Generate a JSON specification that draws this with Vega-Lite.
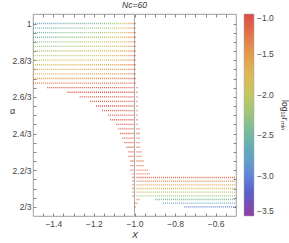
{
 "$schema": "https://vega.github.io/schema/vega-lite/v6.json",
 "width": 203, "height": 202,
 "autosize": "none",
 "padding": {"left": 33, "top": 14, "right": 53, "bottom": 27},
 "background": "white",
 "config": {
  "view": {"stroke": "#888", "strokeWidth": 0.8},
  "font": "Liberation Sans",
  "axis": {"labelFontSize": 8.5, "labelColor": "#444", "tickColor": "#888", "domain": false, "grid": false, "labelOverlap": false, "labelFlush": false, "titleFontSize": 9, "titleColor": "#333", "titleFontWeight": "normal"}
 },
 "title": {"text": "Nc=60", "fontSize": 8.5, "fontWeight": "normal", "fontStyle": "italic", "color": "#333", "offset": 4},
 "datasets": {
  "seg": [
   {"a":1,"x":-1.5,"x2":-1.375,"c":-2.76},{"a":1,"x":-1.37,"x2":-1.245,"c":-2.57},{"a":1,"x":-1.24,"x2":-1.145,"c":-2.39},{"a":1,"x":-1.14,"x2":-1.075,"c":-2.15},{"a":1,"x":-1.07,"x2":-1.035,"c":-1.83},{"a":1,"x":-1.03,"x2":-1.005,"c":-1.46},{"a":1,"x":-1.0,"x2":-0.995,"c":-1.02},
   {"a":0.99167,"x":-1.5,"x2":-1.375,"c":-2.62},{"a":0.99167,"x":-1.37,"x2":-1.245,"c":-2.45},{"a":0.99167,"x":-1.24,"x2":-1.145,"c":-2.28},{"a":0.99167,"x":-1.14,"x2":-1.075,"c":-2.05},{"a":0.99167,"x":-1.07,"x2":-1.035,"c":-1.77},{"a":0.99167,"x":-1.03,"x2":-1.005,"c":-1.43},{"a":0.99167,"x":-1.0,"x2":-0.995,"c":-1.02},
   {"a":0.98333,"x":-1.5,"x2":-1.375,"c":-2.52},{"a":0.98333,"x":-1.37,"x2":-1.245,"c":-2.36},{"a":0.98333,"x":-1.24,"x2":-1.145,"c":-2.2},{"a":0.98333,"x":-1.14,"x2":-1.075,"c":-1.99},{"a":0.98333,"x":-1.07,"x2":-1.035,"c":-1.72},{"a":0.98333,"x":-1.03,"x2":-1.005,"c":-1.4},{"a":0.98333,"x":-1.0,"x2":-0.995,"c":-1.02},
   {"a":0.975,"x":-1.5,"x2":-1.375,"c":-2.43},{"a":0.975,"x":-1.37,"x2":-1.245,"c":-2.28},{"a":0.975,"x":-1.24,"x2":-1.145,"c":-2.13},{"a":0.975,"x":-1.14,"x2":-1.075,"c":-1.93},{"a":0.975,"x":-1.07,"x2":-1.035,"c":-1.68},{"a":0.975,"x":-1.03,"x2":-1.005,"c":-1.38},{"a":0.975,"x":-1.0,"x2":-0.995,"c":-1.02},
   {"a":0.96667,"x":-1.5,"x2":-1.375,"c":-2.33},{"a":0.96667,"x":-1.37,"x2":-1.245,"c":-2.19},{"a":0.96667,"x":-1.24,"x2":-1.145,"c":-2.05},{"a":0.96667,"x":-1.14,"x2":-1.075,"c":-1.87},{"a":0.96667,"x":-1.07,"x2":-1.035,"c":-1.63},{"a":0.96667,"x":-1.03,"x2":-1.005,"c":-1.35},{"a":0.96667,"x":-1.0,"x2":-0.995,"c":-1.02},
   {"a":0.95833,"x":-1.5,"x2":-1.375,"c":-2.24},{"a":0.95833,"x":-1.37,"x2":-1.245,"c":-2.11},{"a":0.95833,"x":-1.24,"x2":-1.145,"c":-1.98},{"a":0.95833,"x":-1.14,"x2":-1.075,"c":-1.81},{"a":0.95833,"x":-1.07,"x2":-1.035,"c":-1.59},{"a":0.95833,"x":-1.03,"x2":-1.005,"c":-1.33},{"a":0.95833,"x":-1.0,"x2":-0.995,"c":-1.02},
   {"a":0.95,"x":-1.5,"x2":-1.375,"c":-2.14},{"a":0.95,"x":-1.37,"x2":-1.245,"c":-2.02},{"a":0.95,"x":-1.24,"x2":-1.145,"c":-1.9},{"a":0.95,"x":-1.14,"x2":-1.075,"c":-1.74},{"a":0.95,"x":-1.07,"x2":-1.035,"c":-1.54},{"a":0.95,"x":-1.03,"x2":-1.005,"c":-1.3},{"a":0.95,"x":-1.0,"x2":-0.995,"c":-1.02},
   {"a":0.94167,"x":-1.5,"x2":-1.375,"c":-2.05},{"a":0.94167,"x":-1.37,"x2":-1.245,"c":-1.94},{"a":0.94167,"x":-1.24,"x2":-1.145,"c":-1.83},{"a":0.94167,"x":-1.14,"x2":-1.075,"c":-1.68},{"a":0.94167,"x":-1.07,"x2":-1.035,"c":-1.5},{"a":0.94167,"x":-1.03,"x2":-1.005,"c":-1.28},{"a":0.94167,"x":-1.0,"x2":-0.995,"c":-1.02},
   {"a":0.93333,"x":-1.5,"x2":-1.375,"c":-1.95},{"a":0.93333,"x":-1.37,"x2":-1.245,"c":-1.85},{"a":0.93333,"x":-1.24,"x2":-1.145,"c":-1.75},{"a":0.93333,"x":-1.14,"x2":-1.075,"c":-1.62},{"a":0.93333,"x":-1.07,"x2":-1.035,"c":-1.45},{"a":0.93333,"x":-1.03,"x2":-1.005,"c":-1.25},{"a":0.93333,"x":-1.0,"x2":-0.995,"c":-1.02},
   {"a":0.925,"x":-1.5,"x2":-1.375,"c":-1.86},{"a":0.925,"x":-1.37,"x2":-1.245,"c":-1.77},{"a":0.925,"x":-1.24,"x2":-1.145,"c":-1.68},{"a":0.925,"x":-1.14,"x2":-1.075,"c":-1.56},{"a":0.925,"x":-1.07,"x2":-1.035,"c":-1.41},{"a":0.925,"x":-1.03,"x2":-1.005,"c":-1.23},{"a":0.925,"x":-1.0,"x2":-0.995,"c":-1.02},
   {"a":0.91667,"x":-1.5,"x2":-1.375,"c":-1.76},{"a":0.91667,"x":-1.37,"x2":-1.245,"c":-1.68},{"a":0.91667,"x":-1.24,"x2":-1.145,"c":-1.6},{"a":0.91667,"x":-1.14,"x2":-1.075,"c":-1.5},{"a":0.91667,"x":-1.07,"x2":-1.035,"c":-1.36},{"a":0.91667,"x":-1.03,"x2":-1.005,"c":-1.2},{"a":0.91667,"x":-1.0,"x2":-0.995,"c":-1.02},
   {"a":0.90833,"x":-1.5,"x2":-1.375,"c":-1.62},{"a":0.90833,"x":-1.37,"x2":-1.245,"c":-1.55},{"a":0.90833,"x":-1.24,"x2":-1.145,"c":-1.49},{"a":0.90833,"x":-1.14,"x2":-1.075,"c":-1.4},{"a":0.90833,"x":-1.07,"x2":-1.035,"c":-1.29},{"a":0.90833,"x":-1.03,"x2":-1.005,"c":-1.16},{"a":0.90833,"x":-1.0,"x2":-0.995,"c":-1.02},
   {"a":0.9,"x":-1.5,"x2":-1.375,"c":-1.48},{"a":0.9,"x":-1.37,"x2":-1.245,"c":-1.43},{"a":0.9,"x":-1.24,"x2":-1.145,"c":-1.38},{"a":0.9,"x":-1.14,"x2":-1.075,"c":-1.31},{"a":0.9,"x":-1.07,"x2":-1.035,"c":-1.23},{"a":0.9,"x":-1.03,"x2":-1.005,"c":-1.13},{"a":0.9,"x":-1.0,"x2":-0.995,"c":-1.02},
   {"a":0.89167,"x":-1.5,"x2":-1.375,"c":-1.29},{"a":0.89167,"x":-1.37,"x2":-1.245,"c":-1.26},{"a":0.89167,"x":-1.24,"x2":-1.145,"c":-1.23},{"a":0.89167,"x":-1.14,"x2":-1.075,"c":-1.19},{"a":0.89167,"x":-1.07,"x2":-1.035,"c":-1.14},{"a":0.89167,"x":-1.03,"x2":-1.005,"c":-1.08},{"a":0.89167,"x":-1.0,"x2":-0.995,"c":-1.02},
   {"a":0.88333,"x":-1.43,"x2":-1.005,"c":-1.05},{"a":0.88333,"x":-0.99,"x2":-0.985,"c":-1.05},
   {"a":0.875,"x":-1.33,"x2":-1.005,"c":-1.05},{"a":0.875,"x":-0.99,"x2":-0.985,"c":-1.05},
   {"a":0.86667,"x":-1.27,"x2":-1.005,"c":-1.05},{"a":0.86667,"x":-0.99,"x2":-0.985,"c":-1.05},
   {"a":0.85833,"x":-1.22,"x2":-1.005,"c":-1.05},{"a":0.85833,"x":-0.99,"x2":-0.985,"c":-1.05},
   {"a":0.85,"x":-1.19,"x2":-1.005,"c":-1.05},{"a":0.85,"x":-0.99,"x2":-0.985,"c":-1.05},
   {"a":0.84167,"x":-1.16,"x2":-1.005,"c":-1.05},{"a":0.84167,"x":-0.99,"x2":-0.985,"c":-1.05},
   {"a":0.83333,"x":-1.13,"x2":-1.005,"c":-1.05},{"a":0.83333,"x":-0.99,"x2":-0.985,"c":-1.05},
   {"a":0.825,"x":-1.12,"x2":-1.005,"c":-1.05},{"a":0.825,"x":-0.99,"x2":-0.985,"c":-1.05},
   {"a":0.81667,"x":-1.09,"x2":-1.005,"c":-1.05},{"a":0.81667,"x":-0.99,"x2":-0.985,"c":-1.05},
   {"a":0.80833,"x":-1.08,"x2":-1.005,"c":-1.05},{"a":0.80833,"x":-0.99,"x2":-0.975,"c":-1.05},
   {"a":0.8,"x":-1.07,"x2":-1.005,"c":-1.05},{"a":0.8,"x":-0.99,"x2":-0.975,"c":-1.05},
   {"a":0.79167,"x":-1.06,"x2":-1.005,"c":-1.05},{"a":0.79167,"x":-0.99,"x2":-0.975,"c":-1.05},
   {"a":0.78333,"x":-1.05,"x2":-1.005,"c":-1.05},{"a":0.78333,"x":-0.99,"x2":-0.975,"c":-1.05},
   {"a":0.775,"x":-1.04,"x2":-1.005,"c":-1.05},{"a":0.775,"x":-0.99,"x2":-0.975,"c":-1.05},
   {"a":0.76667,"x":-1.03,"x2":-1.005,"c":-1.05},{"a":0.76667,"x":-0.99,"x2":-0.965,"c":-1.1},
   {"a":0.75833,"x":-1.03,"x2":-1.005,"c":-1.05},{"a":0.75833,"x":-0.99,"x2":-0.965,"c":-1.2},
   {"a":0.75,"x":-1.02,"x2":-1.005,"c":-1.05},{"a":0.75,"x":-0.99,"x2":-0.955,"c":-1.2},
   {"a":0.74167,"x":-1.02,"x2":-1.005,"c":-1.05},{"a":0.74167,"x":-0.99,"x2":-0.955,"c":-1.2},
   {"a":0.73333,"x":-1.02,"x2":-1.005,"c":-1.05},{"a":0.73333,"x":-0.99,"x2":-0.935,"c":-1.25},
   {"a":0.72667,"x":-1.01,"x2":-1.005,"c":-1.05},{"a":0.72667,"x":-0.99,"x2":-0.925,"c":-1.3},
   {"a":0.72,"x":-1.01,"x2":-1.005,"c":-1.05},{"a":0.72,"x":-0.99,"x2":-0.935,"c":-1.08},{"a":0.72,"x":-0.93,"x2":-0.495,"c":-1.15},
   {"a":0.71333,"x":-1.01,"x2":-1.005,"c":-1.05},{"a":0.71333,"x":-0.99,"x2":-0.935,"c":-1.3},{"a":0.71333,"x":-0.93,"x2":-0.495,"c":-1.4},
   {"a":0.70667,"x":-1.01,"x2":-1.005,"c":-1.05},{"a":0.70667,"x":-0.99,"x2":-0.935,"c":-1.5},{"a":0.70667,"x":-0.93,"x2":-0.495,"c":-1.6},
   {"a":0.7,"x":-1.01,"x2":-1.005,"c":-1.05},{"a":0.7,"x":-0.99,"x2":-0.935,"c":-1.7},{"a":0.7,"x":-0.93,"x2":-0.495,"c":-1.82},
   {"a":0.69333,"x":-1.01,"x2":-1.005,"c":-1.05},{"a":0.69333,"x":-0.99,"x2":-0.935,"c":-1.9},{"a":0.69333,"x":-0.93,"x2":-0.495,"c":-2.02},
   {"a":0.68667,"x":-1.01,"x2":-1.005,"c":-1.05},{"a":0.68667,"x":-0.99,"x2":-0.935,"c":-2.1},{"a":0.68667,"x":-0.93,"x2":-0.495,"c":-2.22},
   {"a":0.68,"x":-0.99,"x2":-0.975,"c":-1.4},{"a":0.68,"x":-0.9,"x2":-0.495,"c":-2.45},
   {"a":0.67333,"x":-1.0,"x2":-0.985,"c":-1.05},{"a":0.67333,"x":-0.86,"x2":-0.495,"c":-2.72},
   {"a":0.66667,"x":-1.0,"x2":-0.995,"c":-1.05},{"a":0.66667,"x":-0.755,"x2":-0.495,"c":-3.05}
  ]
 },
 "layer": [
  {
   "data": {"values": [{"x": -1, "y": 0.64, "y2": 1.03}]},
   "mark": {"type": "rule", "color": "#aaa", "strokeWidth": 1, "clip": true},
   "encoding": {
    "x": {"field": "x", "type": "quantitative", "scale": {"domain": [-1.5, -0.5], "nice": false, "zero": false},
     "axis": {"orient": "top", "labels": false, "ticks": true, "tickSize": -3, "title": null,
      "values": [-1.45,-1.4,-1.35,-1.3,-1.25,-1.2,-1.15,-1.1,-1.05,-1,-0.95,-0.9,-0.85,-0.8,-0.75,-0.7,-0.65,-0.6,-0.55]}},
    "y": {"field": "y", "type": "quantitative", "scale": {"domain": [0.65, 1.0173], "nice": false, "zero": false},
     "axis": {"orient": "right", "labels": false, "ticks": true, "tickSize": -3, "title": null,
      "values": [0.66667,0.68333,0.7,0.71667,0.73333,0.75,0.76667,0.78333,0.8,0.81667,0.83333,0.85,0.86667,0.88333,0.9,0.91667,0.93333,0.95,0.96667,0.98333,1]}},
    "y2": {"field": "y2"}
   }
  },
  {
   "data": {"name": "seg"},
   "mark": {"type": "rule", "strokeDash": [1, 1.03], "strokeWidth": 1.3, "opacity": 0.85, "clip": true},
   "encoding": {
    "x": {"field": "x", "type": "quantitative", "scale": {"domain": [-1.5, -0.5], "nice": false, "zero": false},
     "axis": {"orient": "bottom", "title": "X", "titleFontStyle": "italic", "titlePadding": 3, "labelPadding": 6, "tickSize": -3,
      "values": [-1.45,-1.4,-1.35,-1.3,-1.25,-1.2,-1.15,-1.1,-1.05,-1,-0.95,-0.9,-0.85,-0.8,-0.75,-0.7,-0.65,-0.6,-0.55],
      "labelExpr": "abs(datum.value*5-round(datum.value*5))<0.01 ? format(datum.value,'.1f') : ''"}},
    "x2": {"field": "x2"},
    "y": {"field": "a", "type": "quantitative", "scale": {"domain": [0.65, 1.0173], "nice": false, "zero": false},
     "axis": {"orient": "left", "title": "α", "titleAngle": 0, "titlePadding": 0, "labelPadding": 5, "tickSize": -3,
      "values": [0.66667,0.68333,0.7,0.71667,0.73333,0.75,0.76667,0.78333,0.8,0.81667,0.83333,0.85,0.86667,0.88333,0.9,0.91667,0.93333,0.95,0.96667,0.98333,1],
      "labelExpr": "abs(datum.value*15-round(datum.value*15))<0.01 ? (datum.value>0.999 ? '1' : format(datum.value*3,'.2~f')+'/3') : ''"}},
    "color": {"field": "c", "type": "quantitative",
     "scale": {"domain": [-3.5,-3.25,-3.0,-2.75,-2.5,-2.25,-2.0,-1.75,-1.5,-1.25,-1.0],
      "range": ["#782090","#3e3cbc","#4670d0","#5596b8","#66aa90","#8cbb6a","#b8bd4a","#d7ad3a","#de8c33","#dc5a2c","#d52e28"]},
     "legend": {"title": "log₁₀rₘᵢₙ", "orient": "right", "offset": 7, "direction": "vertical", "gradientLength": 202, "gradientThickness": 10,
      "values": [-3.5,-3,-2.5,-2,-1.5,-1], "format": ".1f", "labelFontSize": 8.5, "labelColor": "#444", "labelOffset": 3,
      "titleOrient": "right", "titleAngle": 270, "titleAlign": "center", "titleBaseline": "bottom", "titleFontSize": 8.5, "titleFontWeight": "normal", "titleColor": "#333", "titleAnchor": "middle", "titlePadding": 6,
      "gradientStrokeColor": "#999", "gradientStrokeWidth": 0.5}}
   }
  }
 ],
 "resolve": {"axis": {"x": "independent", "y": "independent"}}
}
